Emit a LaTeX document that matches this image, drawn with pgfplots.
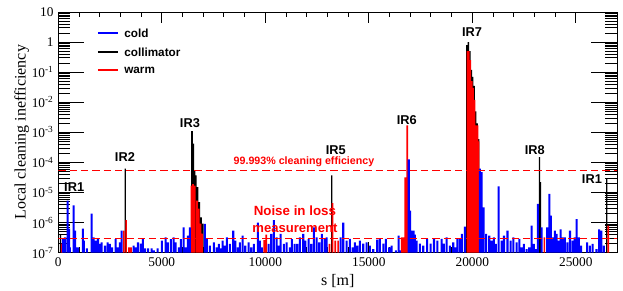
\documentclass[border=0pt]{standalone}
\usepackage{pgfplots}
\pgfplotsset{compat=1.18}
\usepackage{fontspec}
\setmainfont{Liberation Serif}
\newfontfamily\sansb{Liberation Sans}
\begin{document}
\begin{tikzpicture}
% x-axis ticks and label (separate axis for a different tick length)
\begin{axis}[
  scale only axis, width=419.2pt, height=180.5pt,
  xmin=0, xmax=27000, ymin=0, ymax=1,
  ytick=\empty, scaled x ticks=false,
  axis line style={line width=0.7pt},
  xtick={0,5000,10000,15000,20000,25000},
  xticklabels={0,5000,10000,15000,20000,25000},
  minor x tick num=4,
  tick align=inside,
  major tick length=8.25pt, minor tick length=4pt,
  tick style={line width=0.6pt, black},
  ticklabel style={font=\fontsize{10}{12}\selectfont},
  xlabel={s [m]},
  xlabel style={font=\fontsize{12}{14}\selectfont, at={(axis description cs:0.5,0)}, anchor=center, yshift=-21.5pt},
]
\end{axis}
\begin{axis}[
  name=ax,
  scale only axis, width=419.2pt, height=180.5pt,
  xmin=0, xmax=27000, ymin=1e-7, ymax=10,
  ymode=log, log origin y=infty,
  axis line style={line width=0.7pt},
  xtick=\empty,
  ytick={1e-7,1e-6,1e-5,1e-4,1e-3,1e-2,1e-1,1,10},
  yticklabels={10\textsuperscript{-7},10\textsuperscript{-6},10\textsuperscript{-5},10\textsuperscript{-4},10\textsuperscript{-3},10\textsuperscript{-2},10\textsuperscript{-1},1,10},
  minor ytick={2e-7,3e-7,4e-7,5e-7,6e-7,7e-7,8e-7,9e-7,
    2e-6,3e-6,4e-6,5e-6,6e-6,7e-6,8e-6,9e-6,
    2e-5,3e-5,4e-5,5e-5,6e-5,7e-5,8e-5,9e-5,
    2e-4,3e-4,4e-4,5e-4,6e-4,7e-4,8e-4,9e-4,
    2e-3,3e-3,4e-3,5e-3,6e-3,7e-3,8e-3,9e-3,
    2e-2,3e-2,4e-2,5e-2,6e-2,7e-2,8e-2,9e-2,
    0.2,0.3,0.4,0.5,0.6,0.7,0.8,0.9,
    2,3,4,5,6,7,8,9},
  tick align=inside,
  major tick length=19.5pt, minor tick length=9pt,
  tick style={line width=0.6pt, black},
  ticklabel style={font=\fontsize{10}{12}\selectfont},
  ylabel={Local cleaning inefficiency},
  ylabel style={font=\fontsize{12}{14}\selectfont, at={(axis description cs:-0.0655,0.5)}, anchor=center},
  clip=true,
]
% collimator (black)
\addplot[ybar, bar width=75, bar shift=0pt, fill=black, draw=none, forget plot] coordinates {
 (6460,1.1e-3)(6520,4.2e-4)(6580,5.4e-5)(6650,3.7e-5)(6730,1.5e-5)(6810,4.8e-6)(6900,1.5e-6)(6990,9.3e-7)
 (19740,0.8)(19810,1.0)(19880,0.5)(19950,0.12)(20020,0.07)(20090,0.035)(20160,0.005)(20230,0.002)(20300,6e-4)
};
\addplot[ybar, bar width=60, bar shift=0pt, fill=black, draw=none, forget plot] coordinates {
 (110,4e-7)(3240,6.2e-5)(13205,3.7e-5)(23250,1.5e-4)(23300,2.2e-5)(26500,2.9e-5)
};
% warm (red)
\addplot[ybar, bar width=80, bar shift=0pt, fill=red, draw=none, forget plot] coordinates {
 (170,2e-7)(3170,5.4e-7)(3280,1.2e-6)(3415,1.5e-7)(3511,1.5e-7)
 (6430,1.7e-5)(6510,1.9e-5)(6600,1.7e-5)(6700,5.4e-6)(6790,2.9e-6)(6870,9.3e-7)(6950,4.3e-7)
 (9950,2.6e-7)(10050,4e-7)
 (13100,1.95e-7)(13250,4.4e-6)(13380,2.5e-7)(13520,2.5e-7)
 (16590,3.2e-7)(16690,3.2e-7)(16760,3.2e-5)(16860,1.7e-3)
 (19760,0.5)(19830,0.5)(19900,0.25)(19970,0.05)(20040,0.03)(20110,0.012)(20180,1.7e-3)(20250,1.7e-3)(20300,5e-4)
 (23480,3.2e-7)(26570,7.9e-7)
};
% cold (blue)
\addplot[ybar, bar width=100, bar shift=0pt, fill=blue, draw=none, forget plot] coordinates {
 (227,2.9e-7)(324,3.2e-7)(454,5.4e-6)(517,6.3e-7)(565,1.5e-7)(744,3.7e-6)(807,5.4e-7)(903,1.5e-7)(952,1.5e-7)
 (1193,6.3e-7)(1241,2.5e-7)(1386,1.4e-7)(1613,2e-6)(1710,3.2e-7)(1806,2.5e-7)(1918,2.8e-7)(2000,1.95e-7)
 (2096,2.2e-7)(2256,1.7e-7)(2386,2.2e-7)(2497,1.95e-7)(2594,1.5e-7)(2772,2.8e-7)(2884,1.5e-7)(2980,2.2e-7)(3060,5.4e-7)
 (3642,1.7e-7)(3753,1.5e-7)(3850,2.2e-7)(3994,2e-7)(4091,2.8e-7)(4188,1.4e-7)(4333,1.4e-7)(4511,1.4e-7)
 (4622,1.2e-7)(4801,1.4e-7)(5009,2.5e-7)(5187,3.2e-7)(5298,2.2e-7)(5443,2.8e-7)(5574,3.2e-7)(5670,2.2e-7)
 (5830,1.5e-7)(5926,2.8e-7)(6057,6.9e-7)(6153,1.5e-7)(6265,3.7e-7)(6361,7e-7)
 (7080,9e-7)(7180,3e-7)
 (7327,1.7e-7)(7520,2.2e-7)(7650,1.5e-7)(7762,1.95e-7)(7844,1.4e-7)(7941,2.5e-7)(8037,1.7e-7)(8148,3.2e-7)
 (8293,1.95e-7)(8453,5.4e-7)(8550,2.5e-7)(8680,1.5e-7)(8776,2.2e-7)(8907,3.7e-7)(9032,1.7e-7)(9196,2.2e-7)
 (9322,1.5e-7)(9452,1.95e-7)(9645,1e-6)(9742,2.5e-7)(9839,1.5e-7)(10162,1.95e-7)(10288,4.2e-7)(10418,1.2e-6)
 (10549,3.2e-7)(10645,1.7e-7)(10742,4.2e-7)(10901,1.95e-7)(11032,2.2e-7)(11191,1.5e-7)(11288,2.8e-7)
 (11418,1.95e-7)(11544,1.95e-7)(11674,3.2e-7)(11834,4.2e-7)(11930,2.5e-7)(12094,2.8e-7)(12220,1.95e-7)
 (12350,6.9e-7)(12481,3.2e-7)(12606,2.2e-7)(12737,4.2e-7)(12867,2.8e-7)(12964,3.2e-7)
 (13640,3.2e-7)(13765,1e-6)(13930,2.5e-7)(14089,2.9e-7)(14220,1.5e-7)(14331,2.2e-7)(14442,1.7e-7)(14572,2.5e-7)
 (14731,2e-7)(14896,2.2e-7)(15055,1.7e-7)(15214,1.3e-7)(15408,2.7e-7)(15538,2.9e-7)(15701,2e-7)(15828,2.9e-7)
 (15987,1.5e-7)(16103,1.7e-7)(16311,1.2e-7)(16440,3.7e-7)(16504,1.2e-7)
 (16930,1.26e-4)(17000,2.5e-6)(17080,5.4e-7)(17160,5.4e-7)(17230,4e-7)(17310,2.5e-7)(17470,2e-7)(17630,1.7e-7)
 (17820,2.9e-7)(17990,2e-7)(18150,2.9e-7)(18310,2.5e-7)(18520,2.9e-7)(18620,2e-7)(18760,3.2e-7)(18920,1.7e-7)
 (19080,2.2e-7)(19180,1.5e-7)(19280,2.9e-7)(19400,2.9e-7)(19500,4.2e-7)(19640,7.4e-7)
 (20370,6.2e-5)(20450,4.8e-5)(20540,3.2e-6)(20670,4.2e-7)(20820,3.7e-7)(20930,2.5e-7)(21045,3.2e-7)(21140,1.95e-7)
 (21270,1.6e-5)(21415,2.5e-7)(21530,3.7e-7)(21700,5.4e-7)(21850,2.5e-7)(21980,3.2e-7)(22140,2.2e-7)(22270,2.9e-7)
 (22380,1.5e-7)(22490,1.95e-7)(22620,1.3e-7)(22750,1.5e-7)(22865,7.9e-7)(22975,1.95e-7)(23070,1.3e-7)(23170,4.2e-6)
 (23350,6.9e-7)(23620,6.9e-7)(23720,9e-6)(23800,1.7e-6)(23880,3.2e-7)(23990,5.4e-7)(24070,4.2e-7)(24170,2.5e-7)
 (24270,6e-7)(24360,3.2e-7)(24470,3.2e-7)(24590,2.2e-7)(24720,5.4e-7)(24850,2.5e-7)(24940,3.2e-7)(25040,1.3e-6)
 (25150,3.2e-7)(25260,1.7e-7)(25550,2.2e-7)(25680,1.7e-7)(25810,1.95e-7)(26000,1.3e-7)(26130,6e-7)(26230,5.4e-7)
 (26360,1.7e-7)
};
% reference levels
\addplot[red, line width=1.1pt, dash pattern=on 5.5pt off 3pt, forget plot] coordinates {(0,5.4e-5)(27000,5.4e-5)};
\addplot[red, line width=1.1pt, dash pattern=on 5.5pt off 3pt, forget plot] coordinates {(0,2.9e-7)(27000,2.9e-7)};
% legend (drawn as a key)
\begin{scope}[every node/.style={font=\sansb\bfseries\fontsize{8.8}{10.5}\selectfont, anchor=west, inner sep=0pt}]
\draw[blue, line width=1.1pt] (axis description cs:0.071,0.913) -- ++(15pt,0pt);
\node at (axis description cs:0.1177,0.913) {cold};
\draw[black, line width=1.1pt] (axis description cs:0.071,0.834) -- ++(15pt,0pt);
\node at (axis description cs:0.1177,0.834) {collimator};
\draw[red, line width=1.1pt] (axis description cs:0.071,0.759) -- ++(15pt,0pt);
\node at (axis description cs:0.1177,0.759) {warm};
\end{scope}
% labels
\begin{scope}[every node/.style={font=\sansb\bfseries\fontsize{9.6}{11}\selectfont}]
\node[anchor=west] at (axis cs:60,1.5e-5) {IR1};
\node at (axis cs:3220,1.5e-4) {IR2};
\node at (axis cs:6360,2e-3) {IR3};
\node at (axis cs:13410,2.5e-4) {IR5};
\node at (axis cs:16840,2.5e-3) {IR6};
\node at (axis cs:19990,2.07) {IR7};
\node at (axis cs:23020,2.5e-4) {IR8};
\node at (axis cs:25780,2.9e-5) {IR1};
\end{scope}
\node[text=red, font=\sansb\bfseries\fontsize{8}{9.6}\selectfont] at (axis cs:11870,1.04e-4) {99.993\% cleaning efficiency};
\node[text=red, font=\sansb\bfseries\fontsize{10}{12}\selectfont] at (axis cs:11430,2.5e-6) {Noise in loss};
\node[text=red, font=\sansb\bfseries\fontsize{9.8}{12}\selectfont] at (axis cs:11430,6.3e-7) {measurement};
\end{axis}
\pgfresetboundingbox
\path[use as bounding box] ([xshift=-43.7pt,yshift=-28pt]ax.south west) rectangle ([xshift=4.35pt,yshift=9pt]ax.north east);
\end{tikzpicture}
\end{document}
